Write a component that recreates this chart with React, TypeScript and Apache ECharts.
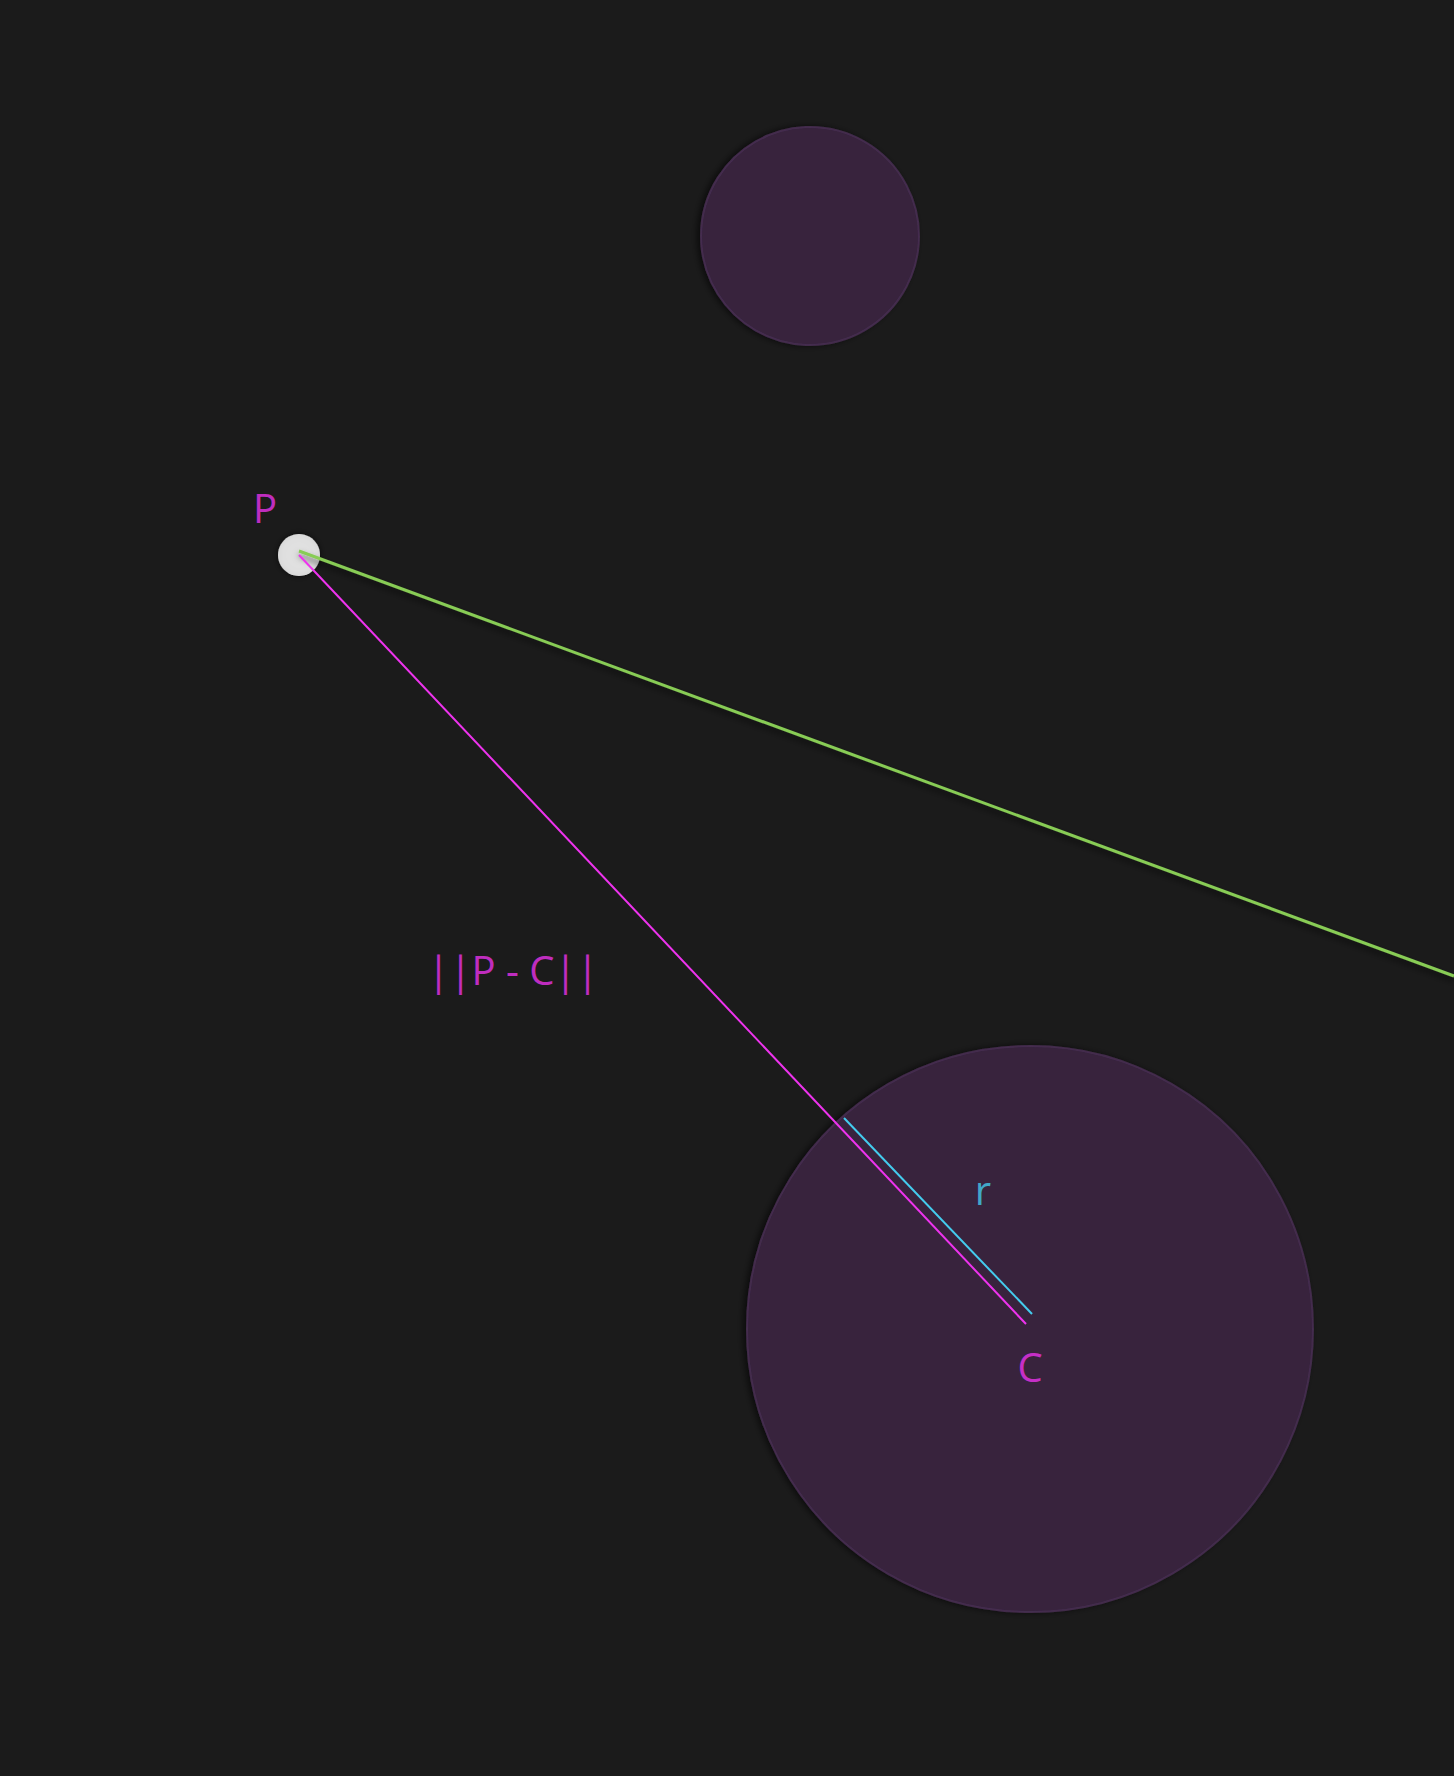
import { useEffect, useRef } from "react";
import * as echarts from "echarts";

// scene coordinates in pixels (x right, y down)
const circles = [
  { name: "small", x: 810, y: 236, r: 109 },
  { name: "big", x: 1030, y: 1329, r: 283 },
];
const pointP = [299, 555];
const rayLine = [[299, 551], [1454, 976]];
const distLine = [[299, 555], [1026, 1324]];
const radiusLine = [[844, 1118], [1032, 1314]];
const labels = [
  { text: "P", x: 265, y: 507, color: "#ee33ee" },
  { text: "||P - C||", x: 513, y: 969, color: "#ee33ee" },
  { text: "r", x: 983, y: 1189, color: "#44ccee" },
  { text: "C", x: 1030, y: 1366, color: "#ee33ee" },
];

export default function App() {
  const ref = useRef<HTMLDivElement>(null);

  useEffect(() => {
    document.body.style.margin = "0";
    if (!ref.current) return;
    const chart = echarts.init(ref.current, null, { renderer: "svg" });
    const seg = (name: string, data: number[][], color: string, width: number, shadow = false) => ({
      name,
      type: "line",
      data,
      symbol: "none",
      z: 3,
      lineStyle: {
        color,
        width,
        shadowColor: shadow ? "rgba(0,0,0,0.6)" : "transparent",
        shadowBlur: shadow ? 6 : 0,
        shadowOffsetY: shadow ? 4 : 0,
      },
    });
    chart.setOption({
      animation: false,
      backgroundColor: "#1b1b1b",
      grid: { left: 0, right: 0, top: 0, bottom: 0 },
      xAxis: { type: "value", min: 0, max: 1454, show: false },
      yAxis: { type: "value", min: 0, max: 1776, inverse: true, show: false },
      series: [
        ...circles.map((c) => ({
          name: c.name,
          type: "scatter",
          data: [[c.x, c.y]],
          symbolSize: c.r * 2,
          z: 1,
          itemStyle: {
            color: "#3d2646",
            borderColor: "#4a3054",
            borderWidth: 2,
            shadowColor: "rgba(0,0,0,0.7)",
            shadowBlur: 6,
            shadowOffsetX: -3,
          },
        })),
        seg("ray", rayLine, "#88cc55", 3, true),
        seg("dist", distLine, "#ee33ee", 2),
        seg("radius", radiusLine, "#44ccee", 2),
        {
          name: "P",
          type: "scatter",
          data: [pointP],
          symbolSize: 42,
          z: 2,
          itemStyle: { color: "#ffffff", shadowColor: "rgba(0,0,0,0.8)", shadowBlur: 6 },
        },
        {
          name: "labels",
          type: "scatter",
          symbolSize: 0,
          z: 4,
          data: labels.map((l) => ({
            value: [l.x, l.y],
            label: {
              show: true,
              position: "inside",
              formatter: l.text,
              color: l.color,
              fontSize: 40,
              fontFamily: "Open Sans",
            },
          })),
        },
      ],
    });
    return () => chart.dispose();
  }, []);

  return <div ref={ref} style={{ width: 1454, height: 1776 }} />;
}
